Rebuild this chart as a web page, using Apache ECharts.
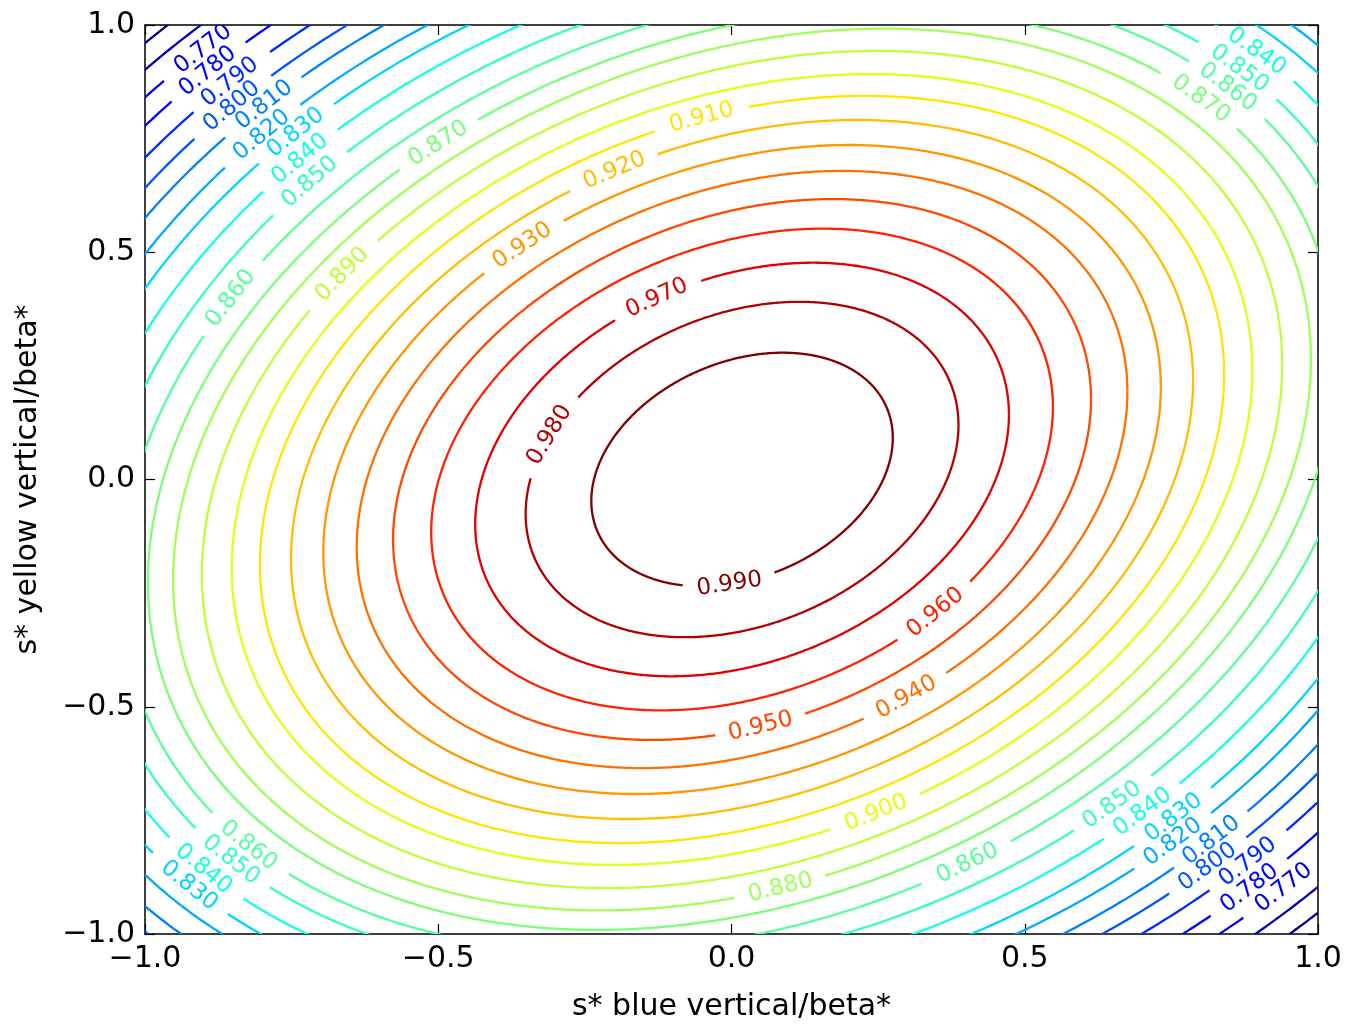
<!DOCTYPE html>
<html>
<head>
<meta charset="utf-8">
<script src="https://cdn.jsdelivr.net/npm/echarts@6/dist/echarts.min.js"></script>
<style>
  html, body { margin: 0; padding: 0; background: #fff; }
  #chart { width: 1346px; height: 1025px; }
</style>
</head>
<body>
<div id="chart"></div>
<script>
// contour levels (0.75 is the short dark line in the corners)
const levels = [0.75, 0.76, 0.77, 0.78, 0.79, 0.80, 0.81, 0.82, 0.83, 0.84, 0.85, 0.86,
                0.87, 0.88, 0.89, 0.90, 0.91, 0.92, 0.93, 0.94, 0.95, 0.96, 0.97, 0.98, 0.99];
// half width of each ellipse-like contour (axis units) and its x-y tilt
const spread = [1.519, 1.48, 1.44, 1.40, 1.356, 1.316, 1.278, 1.234, 1.195, 1.151, 1.104, 1.06,
                1.013, 0.970, 0.921, 0.870, 0.822, 0.769, 0.714, 0.657, 0.595, 0.530, 0.455, 0.369, 0.257];
const tilt = [0.17, 0.175, 0.18, 0.185, 0.19, 0.195, 0.20, 0.205, 0.21, 0.22, 0.228, 0.24,
              0.245, 0.25, 0.25, 0.25, 0.255, 0.255, 0.255, 0.26, 0.26, 0.26, 0.265, 0.265, 0.27];
const centreX = 0.018;
const centreY = 0.022;

// inline contour labels: level and where it sits (axis units)
const labelLevel = [0.77, 0.78, 0.79, 0.80, 0.81, 0.82, 0.83, 0.84, 0.85,
                    0.86, 0.87, 0.89, 0.91, 0.92, 0.93, 0.97, 0.98, 0.99,
                    0.96, 0.95, 0.94, 0.90, 0.88, 0.86,
                    0.86, 0.85, 0.84, 0.83,
                    0.84, 0.85, 0.86, 0.87,
                    0.85, 0.84, 0.83, 0.82, 0.81, 0.80, 0.79, 0.78, 0.77];
const labelX = [-0.903, -0.896, -0.860, -0.853, -0.804, -0.809, -0.749, -0.741, -0.727,
                -0.862, -0.504, -0.673, -0.052, -0.200, -0.356, -0.129, -0.311, -0.003,
                0.347, 0.049, 0.298, 0.248, 0.083, 0.400,
                -0.816, -0.847, -0.898, -0.923,
                0.905, 0.867, 0.847, 0.802,
                0.645, 0.697, 0.748, 0.748, 0.811, 0.812, 0.876, 0.881, 0.940];
const labelY = [0.949, 0.901, 0.879, 0.822, 0.831, 0.765, 0.769, 0.710, 0.661,
                0.402, 0.745, 0.457, 0.806, 0.681, 0.514, 0.404, 0.098, -0.226,
                -0.292, -0.534, -0.479, -0.738, -0.890, -0.839,
                -0.798, -0.831, -0.855, -0.892,
                0.952, 0.905, 0.864, 0.839,
                -0.712, -0.727, -0.738, -0.793, -0.787, -0.853, -0.837, -0.897, -0.897];

const axisMin = -1;
const axisMax = 1;
const tickStep = 0.5;

// matplotlib "jet"
function jet(v) {
    const seg = (pts) => {
        for (let k = 1; k < pts.length; k++) {
            if (v <= pts[k][0]) {
                const a = pts[k - 1], b = pts[k];
                return a[1] + (b[1] - a[1]) * (v - a[0]) / (b[0] - a[0]);
            }
        }
        return pts[pts.length - 1][1];
    };
    const r = seg([[0, 0], [0.35, 0], [0.66, 1], [0.89, 1], [1, 0.5]]);
    const g = seg([[0, 0], [0.125, 0], [0.375, 1], [0.64, 1], [0.91, 0], [1, 0]]);
    const b = seg([[0, 0.5], [0.11, 1], [0.34, 1], [0.65, 0], [1, 0]]);
    return 'rgb(' + Math.round(r * 255) + ',' + Math.round(g * 255) + ',' + Math.round(b * 255) + ')';
}

const labelFont = '23px "DejaVu Sans"';
const gapRadius = 46;

function renderItem(params, api) {
    const i = api.value(2);
    const lv = levels[i], s = spread[i], r = tilt[i];
    const q = Math.sqrt(1 - r * r);
    const at = (t) => [centreX + s * Math.cos(t), centreY + s * (r * Math.cos(t) + q * Math.sin(t))];
    const color = jet((lv - levels[0]) / (levels[levels.length - 1] - levels[0]));

    // snap each label onto its contour
    const marks = [];
    labelLevel.forEach((l, j) => {
        if (Math.abs(l - lv) > 1e-6) return;
        const u = (labelX[j] - centreX) / s;
        const w = ((labelY[j] - centreY) / s - r * u) / q;
        const t = Math.atan2(w, u);
        const p = api.coord(at(t));
        const p2 = api.coord(at(t + 0.005));
        let ang = Math.atan2(p2[1] - p[1], p2[0] - p[0]);
        if (ang > Math.PI / 2) ang -= Math.PI;
        if (ang < -Math.PI / 2) ang += Math.PI;
        marks.push({ p: p, ang: ang });
    });

    const segs = [];
    let cur = [];
    const n = 900;
    for (let k = 0; k <= n; k++) {
        const p = api.coord(at(2 * Math.PI * k / n));
        const hidden = marks.some(m => Math.hypot(p[0] - m.p[0], p[1] - m.p[1]) < gapRadius);
        if (hidden) {
            if (cur.length > 1) segs.push(cur);
            cur = [];
        } else {
            cur.push(p);
        }
    }
    if (cur.length > 1) segs.push(cur);

    const children = segs.map(pts => ({
        type: 'polyline',
        shape: { points: pts },
        style: { stroke: color, fill: 'none', lineWidth: 2.3 }
    }));
    marks.forEach(m => {
        children.push({
            type: 'text',
            x: m.p[0],
            y: m.p[1],
            rotation: -m.ang,
            style: {
                text: lv.toFixed(3),
                fill: color,
                font: labelFont,
                align: 'center',
                verticalAlign: 'middle'
            }
        });
    });
    return { type: 'group', children: children };
}

const tickFmt = (v) => (v < 0 ? '\u2212' : '') + Math.abs(v).toFixed(1);

function valueAxis(pos, showLabel, name, gap) {
    return {
        type: 'value',
        position: pos,
        min: axisMin,
        max: axisMax,
        interval: tickStep,
        name: name,
        nameLocation: 'middle',
        nameGap: gap,
        nameTextStyle: { fontSize: 30, fontFamily: 'DejaVu Sans', color: '#000' },
        axisLine: { show: true, onZero: false, lineStyle: { color: '#000', width: 1.5 } },
        axisTick: { show: true, inside: true, length: 10, lineStyle: { color: '#000', width: 1.2 } },
        axisLabel: {
            show: showLabel,
            formatter: tickFmt,
            fontSize: 30,
            fontFamily: 'DejaVu Sans',
            color: '#000',
            margin: 10
        },
        splitLine: { show: false }
    };
}

const chart = echarts.init(document.getElementById('chart'));
chart.setOption({
    animation: false,
    backgroundColor: '#fff',
    grid: { left: 145, top: 25, width: 1173, height: 909, outerBoundsMode: 'none' },
    xAxis: [
        valueAxis('bottom', true, 's* blue vertical/beta*', 58),
        valueAxis('top', false, '', 0)
    ],
    yAxis: [
        valueAxis('left', true, 's* yellow vertical/beta*', 102),
        valueAxis('right', false, '', 0)
    ],
    series: [{
        type: 'custom',
        coordinateSystem: 'cartesian2d',
        xAxisIndex: 0,
        yAxisIndex: 0,
        clip: true,
        renderItem: renderItem,
        data: levels.map((lv, i) => [0, 0, i])
    }]
});
window.addEventListener('resize', chart.resize);
</script>
</body>
</html>
